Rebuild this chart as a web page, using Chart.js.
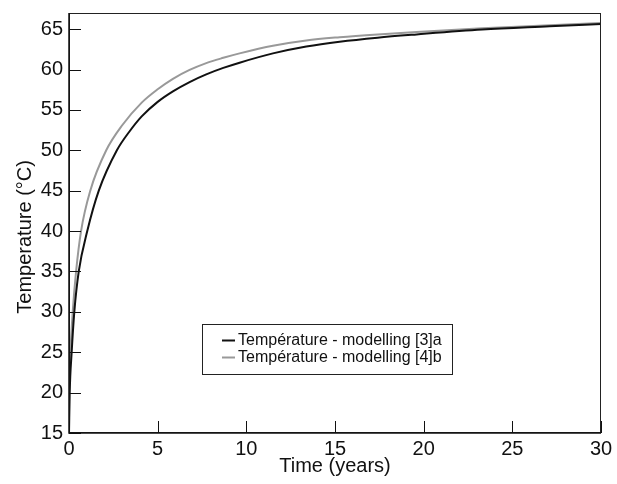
<!DOCTYPE html>
<html>
<head>
<meta charset="utf-8">
<script src="https://cdn.jsdelivr.net/npm/chart.js@4/dist/chart.umd.min.js"></script>
<style>
  html, body { margin: 0; padding: 0; background: #fff; }
</style>
</head>
<body>
<canvas id="chart" width="617" height="484"></canvas>
<script>
/* datos */
const labelA = "Température - modelling [3]a";
const labelB = "Température - modelling [4]b";

const timeA = [0, 0.04, 0.15, 0.3, 0.55, 1.03, 1.68, 2.7, 3.4, 4.1, 5.0, 5.86, 6.8, 7.74, 8.7, 9.62, 11.5, 13.38, 15.26, 17.4, 19.6, 23.3, 27.1, 30];
const tempA = [15, 20, 25, 30, 35, 40, 45, 50, 52.3, 54.2, 56.0, 57.3, 58.45, 59.4, 60.2, 60.85, 62.0, 62.85, 63.45, 63.95, 64.35, 64.95, 65.35, 65.65];

const timeB = [0, 0.08, 0.21, 0.4, 0.68, 1.2, 2.1, 3.0, 4.1, 5.0, 5.86, 6.8, 7.74, 8.7, 9.62, 11.5, 13.38, 15.26, 17.4, 19.6, 23.3, 27.1, 30];
const tempB = [20, 25, 30, 35, 40, 45, 50, 53.1, 55.9, 57.55, 58.85, 59.95, 60.8, 61.45, 62.0, 62.95, 63.6, 64.0, 64.35, 64.65, 65.1, 65.47, 65.77];

const xTicks = [0, 5, 10, 15, 20, 25, 30];
const yTicks = [15, 20, 25, 30, 35, 40, 45, 50, 55, 60, 65];

const FONT = "'Liberation Sans', Arial, Helvetica, sans-serif";

/* marco, ticks hacia adentro y leyenda dentro del area */
const framePlugin = {
  id: "frame",
  afterDraw(chart) {
    const { ctx, chartArea: a, scales } = chart;
    ctx.save();
    ctx.strokeStyle = "#222";
    ctx.lineWidth = 1;
    ctx.strokeRect(a.left + 0.5, a.top + 0.5, a.right - a.left - 1, a.bottom - a.top - 1);

    ctx.strokeStyle = "#111";
    ctx.lineWidth = 1.5;
    ctx.beginPath();
    ctx.moveTo(a.left, a.top);
    ctx.lineTo(a.left, a.bottom);
    ctx.lineTo(a.right, a.bottom);
    ctx.stroke();

    ctx.lineWidth = 1;
    ctx.beginPath();
    yTicks.forEach(v => {
      const py = Math.round(scales.y.getPixelForValue(v)) + 0.5;
      ctx.moveTo(a.left, py);
      ctx.lineTo(a.left + 12, py);
    });
    xTicks.forEach(v => {
      const px = Math.round(scales.x.getPixelForValue(v)) + 0.5;
      ctx.moveTo(px, a.bottom);
      ctx.lineTo(px, a.bottom - 12);
    });
    ctx.stroke();

    // leyenda
    const bx = a.left + 133, by = a.top + 311, bw = 250, bh = 50;
    ctx.fillStyle = "#fff";
    ctx.fillRect(bx, by, bw, bh);
    ctx.strokeStyle = "#222";
    ctx.lineWidth = 1;
    ctx.strokeRect(bx + 0.5, by + 0.5, bw, bh);
    ctx.font = "16px " + FONT;
    ctx.textBaseline = "middle";
    ctx.textAlign = "left";
    chart.data.datasets.forEach((ds, i) => {
      const ry = by + 16.5 + i * 17;
      ctx.strokeStyle = ds.borderColor;
      ctx.lineWidth = 2;
      ctx.beginPath();
      ctx.moveTo(bx + 20, ry);
      ctx.lineTo(bx + 33, ry);
      ctx.stroke();
      ctx.fillStyle = "#111";
      ctx.fillText(ds.label, bx + 36, ry);
    });
    ctx.restore();
  }
};

const ctx = document.getElementById("chart").getContext("2d");
const chart = new Chart(ctx, {
  type: "line",
  data: {
    datasets: [
      {
        label: labelA,
        data: timeA.map((t, i) => ({ x: t, y: tempA[i] })),
        borderColor: "#111111",
        borderWidth: 2,
        pointRadius: 0,
        cubicInterpolationMode: "monotone",
        fill: false,
      },
      {
        label: labelB,
        data: timeB.map((t, i) => ({ x: t, y: tempB[i] })),
        borderColor: "#999999",
        borderWidth: 2,
        pointRadius: 0,
        cubicInterpolationMode: "monotone",
        fill: false,
      },
    ],
  },
  options: {
    responsive: false,
    animation: false,
    layout: { padding: { top: 13, right: 16, left: 0, bottom: 0 } },
    plugins: {
      legend: { display: false },
      tooltip: { enabled: false },
    },
    scales: {
      x: {
        type: "linear",
        min: 0,
        max: 30,
        afterBuildTicks: s => { s.ticks = xTicks.map(v => ({ value: v })); },
        afterFit: s => { s.height = 51; },
        grid: { display: false, drawTicks: false },
        border: { display: false },
        ticks: { padding: 4, color: "#111", font: { family: FONT, size: 20 } },
        title: {
          display: true,
          text: "Time (years)",
          color: "#111",
          font: { family: FONT, size: 20 },
          padding: { top: 0, bottom: 6 },
        },
      },
      y: {
        min: 15,
        max: 67,
        afterBuildTicks: s => { s.ticks = yTicks.map(v => ({ value: v })); },
        afterFit: s => { s.width = 69; s.paddingTop = 0; s.paddingBottom = 0; },
        grid: { display: false, drawTicks: false },
        border: { display: false },
        ticks: { padding: 6, color: "#111", font: { family: FONT, size: 20 } },
        title: {
          display: true,
          text: "Temperature (°C)     ",
          color: "#111",
          font: { family: FONT, size: 20 },
          padding: { top: 13, bottom: 0 },
        },
      },
    },
  },
  plugins: [framePlugin],
});
</script>
</body>
</html>
